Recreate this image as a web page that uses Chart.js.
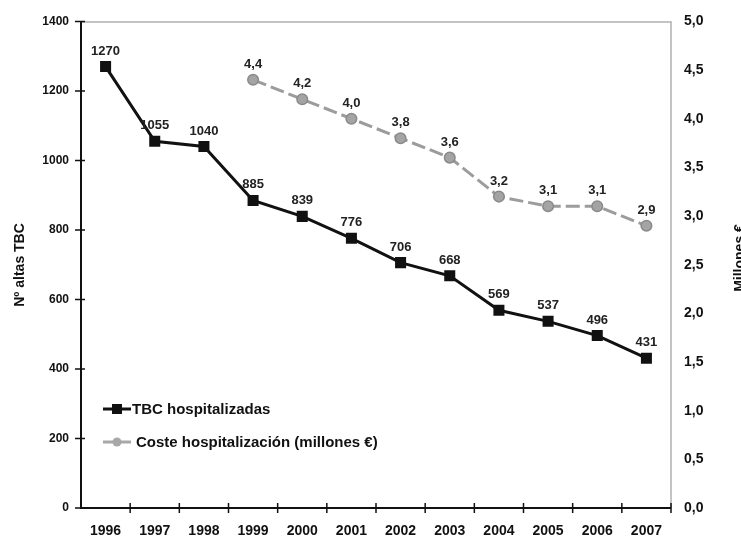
<!DOCTYPE html>
<html>
<head>
<meta charset="utf-8">
<script src="https://cdn.jsdelivr.net/npm/chart.js@4"></script>
<style>
  html, body { margin: 0; padding: 0; background: #fff; }
  #wrap { width: 741px; height: 539px; }
</style>
</head>
<body>
<div id="wrap"><canvas id="chart" width="741" height="539"></canvas></div>
<script>
const years = ["1996", "1997", "1998", "1999", "2000", "2001", "2002", "2003", "2004", "2005", "2006", "2007"];
const altasTBC = [1270, 1055, 1040, 885, 839, 776, 706, 668, 569, 537, 496, 431];
const costeMillones = [null, null, null, 4.4, 4.2, 4.0, 3.8, 3.6, 3.2, 3.1, 3.1, 2.9];
const leftTicks = [0, 200, 400, 600, 800, 1000, 1200, 1400];
const rightTicks = [0, 0.5, 1, 1.5, 2, 2.5, 3, 3.5, 4, 4.5, 5];

const FONT = "'Liberation Sans', Arial, sans-serif";
const comma = v => v.toFixed(1).replace('.', ',');

// axis box, borders, crossing tick marks, value labels, titles and the in-plot legend
const decor = {
  id: 'decor',
  beforeDatasetsDraw(chart) {
    const { ctx, chartArea: a, scales } = chart;
    ctx.save();
    // light frame on top and right
    ctx.strokeStyle = '#b0b0b0';
    ctx.lineWidth = 1.5;
    ctx.beginPath();
    ctx.moveTo(a.left, a.top + 0.5);
    ctx.lineTo(a.right, a.top + 0.5);
    ctx.lineTo(a.right, a.bottom);
    ctx.stroke();
    // black axes
    ctx.strokeStyle = '#111';
    ctx.lineWidth = 2;
    ctx.beginPath();
    ctx.moveTo(a.left, a.top);
    ctx.lineTo(a.left, a.bottom);
    ctx.lineTo(a.right, a.bottom);
    ctx.stroke();
    // ticks crossing the left axis
    ctx.lineWidth = 1.5;
    ctx.beginPath();
    leftTicks.forEach(v => {
      const y = scales.y.getPixelForValue(v);
      ctx.moveTo(a.left - 6, y);
      ctx.lineTo(a.left + 4, y);
    });
    // ticks crossing the x axis, between categories
    for (let i = 1; i <= years.length; i++) {
      const x = a.left + (a.right - a.left) * i / years.length;
      ctx.moveTo(x, a.bottom - 5);
      ctx.lineTo(x, a.bottom + 5);
    }
    ctx.stroke();
    ctx.restore();
  },
  afterDatasetsDraw(chart) {
    const { ctx } = chart;
    ctx.save();
    ctx.fillStyle = '#222';
    ctx.font = 'bold 13px ' + FONT;
    ctx.textAlign = 'center';
    ctx.textBaseline = 'alphabetic';
    chart.getDatasetMeta(0).data.forEach((pt, i) => {
      ctx.fillText(String(altasTBC[i]), pt.x, pt.y - 12);
    });
    chart.getDatasetMeta(1).data.forEach((pt, i) => {
      if (costeMillones[i] == null) return;
      ctx.fillText(comma(costeMillones[i]), pt.x, pt.y - 12);
    });

    // axis titles
    ctx.font = 'bold 14px ' + FONT;
    ctx.fillStyle = '#111';
    ctx.save();
    ctx.translate(20, 265);
    ctx.rotate(-Math.PI / 2);
    ctx.textBaseline = 'middle';
    ctx.fillText('Nº altas TBC', 0, 0);
    ctx.restore();
    ctx.save();
    ctx.translate(740, 258);
    ctx.rotate(-Math.PI / 2);
    ctx.textBaseline = 'middle';
    ctx.fillText('Millones €', 0, 0);
    ctx.restore();

    // legend
    ctx.textAlign = 'left';
    ctx.textBaseline = 'middle';
    ctx.font = 'bold 15px ' + FONT;
    let y = 409;
    ctx.strokeStyle = '#111';
    ctx.lineWidth = 3;
    ctx.beginPath();
    ctx.moveTo(103, y);
    ctx.lineTo(131, y);
    ctx.stroke();
    ctx.fillStyle = '#111';
    ctx.fillRect(112, y - 5, 10, 10);
    ctx.fillText('TBC hospitalizadas', 132, y + 1);
    y = 442;
    ctx.strokeStyle = '#a8a8a8';
    ctx.beginPath();
    ctx.moveTo(103, y);
    ctx.lineTo(131, y);
    ctx.stroke();
    ctx.fillStyle = '#a8a8a8';
    ctx.beginPath();
    ctx.arc(117, y, 4.5, 0, Math.PI * 2);
    ctx.fill();
    ctx.fillStyle = '#111';
    ctx.fillText('Coste hospitalización (millones €)', 136, y + 1);
    ctx.restore();
  }
};

new Chart(document.getElementById('chart'), {
  type: 'line',
  data: {
    labels: years,
    datasets: [
      {
        label: 'TBC hospitalizadas',
        data: altasTBC,
        yAxisID: 'y',
        borderColor: '#111',
        backgroundColor: '#111',
        borderWidth: 3,
        pointStyle: 'rect',
        pointRadius: 7.8,
        pointBorderWidth: 0,
        tension: 0
      },
      {
        label: 'Coste hospitalización (millones €)',
        data: costeMillones,
        yAxisID: 'y1',
        borderColor: '#9c9c9c',
        backgroundColor: '#a4a4a4',
        pointBorderColor: '#8a8a8a',
        borderWidth: 3,
        borderDash: [14, 5],
        pointStyle: 'circle',
        pointRadius: 5.3,
        pointBorderWidth: 1.5,
        spanGaps: false,
        tension: 0
      }
    ]
  },
  options: {
    responsive: false,
    animation: false,
    layout: { padding: { top: 20, left: 0, right: 0, bottom: 0 } },
    plugins: {
      legend: { display: false },
      tooltip: { enabled: false }
    },
    scales: {
      x: {
        offset: true,
        grid: { display: false, drawTicks: false },
        border: { display: false },
        ticks: {
          color: '#111',
          font: { family: FONT, size: 14, weight: 'bold' },
          padding: 15,
          maxRotation: 0
        },
        afterFit(s) { s.height = 31; }
      },
      y: {
        position: 'left',
        min: 0,
        max: 1400,
        grid: { display: false, drawTicks: false },
        border: { display: false },
        ticks: {
          stepSize: 200,
          color: '#111',
          font: { family: FONT, size: 12, weight: 'bold' },
          padding: 12,
          callback: v => String(v)
        },
        afterFit(s) { s.width = 81; }
      },
      y1: {
        position: 'right',
        min: 0,
        max: 5,
        grid: { display: false, drawTicks: false },
        border: { display: false },
        ticks: {
          stepSize: 0.5,
          color: '#111',
          font: { family: FONT, size: 14, weight: 'bold' },
          padding: 13,
          callback: v => comma(v)
        },
        afterFit(s) { s.width = 70; }
      }
    }
  },
  plugins: [decor]
});
</script>
</body>
</html>
